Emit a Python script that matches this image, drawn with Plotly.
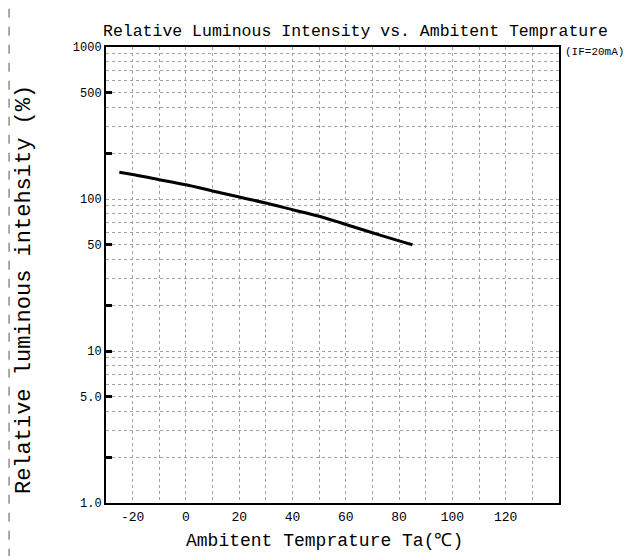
import plotly.graph_objects as go

# ---- data ----
temp_c = [-25, -20, -10, 0, 10, 20, 30, 40, 50, 60, 70, 80, 85]
rel_intensity = [150, 145, 134, 124, 113, 103, 94, 85, 77, 68, 60, 53, 50]

x_tick_vals = [-20, 0, 20, 40, 60, 80, 100, 120]
x_tick_text = ["-20", "0", "20", "40", "60", "80", "100", "120"]
x_grid_vals = [-20, -10, 0, 10, 20, 30, 40, 50, 60, 70, 80, 90, 100, 110, 120, 130]

y_label_vals = [1, 5, 10, 50, 100, 500, 1000]
y_label_text = ["1.0", "5.0", "10", "50", "100", "500", "1000"]
y_mark_vals = [2, 5, 10, 20, 50, 200, 500]

title_text = "Relative Luminous Intensity vs. Ambitent Temprature"
cond_text = "(IF=20mA)"
x_title = "Ambitent Temprature Ta(℃)"
y_title = "Relative luminous intehsity (%)"

# grid values on log axis: 1..9 per decade
y_grid_vals = [k * 10 ** d for d in range(3) for k in range(1, 10)] + [1000]
y_grid_text = [y_label_text[y_label_vals.index(v)] if v in y_label_vals else "" for v in y_grid_vals]
x_grid_text = [x_tick_text[x_tick_vals.index(v)] if v in x_tick_vals else "" for v in x_grid_vals]

FONT = "Liberation Mono"

fig = go.Figure()
fig.add_trace(go.Scatter(
    x=temp_c, y=rel_intensity, mode="lines",
    line=dict(color="black", width=3, shape="spline"),
    showlegend=False, hoverinfo="skip",
))
# invisible trace on the tick-mark axis
fig.add_trace(go.Scatter(x=[None], y=[None], yaxis="y2", showlegend=False))

fig.update_layout(
    width=624, height=548,
    margin=dict(l=98, r=73, t=39, b=53),
    paper_bgcolor="white", plot_bgcolor="white",
    font=dict(family=FONT, color="black"),
    xaxis=dict(
        range=[-30, 140], tickmode="array", tickvals=x_grid_vals, ticktext=x_grid_text,
        showgrid=True, gridcolor="#a0a0a0", griddash="dot", gridwidth=1,
        showline=True, linecolor="black", linewidth=2, mirror=True,
        ticks="", zeroline=False, tickfont=dict(size=13, family=FONT),
    ),
    yaxis=dict(
        type="log", range=[0, 3], tickmode="array", tickvals=y_grid_vals, ticktext=y_grid_text,
        showgrid=True, gridcolor="#a0a0a0", griddash="dot", gridwidth=1,
        showline=True, linecolor="black", linewidth=2, mirror=True,
        ticks="", zeroline=False, tickfont=dict(size=12, family=FONT),
    ),
    yaxis2=dict(
        type="log", range=[0, 3], overlaying="y", side="left",
        tickmode="array", tickvals=y_mark_vals, showticklabels=False,
        ticks="inside", ticklen=6, tickwidth=3, tickcolor="black",
        showgrid=False, showline=False, zeroline=False,
    ),
    annotations=[
        dict(text=title_text, xref="paper", yref="paper", x=-0.01, y=1.033,
             xanchor="left", yanchor="middle", showarrow=False,
             font=dict(size=16.5, family=FONT, color="black")),
        dict(text=cond_text, xref="paper", yref="paper", x=1.009, y=0.989,
             xanchor="left", yanchor="middle", showarrow=False,
             font=dict(size=11, family=FONT, color="black")),
        dict(text=x_title, xref="paper", yref="paper", x=0.483, y=-0.083,
             xanchor="center", yanchor="middle", showarrow=False,
             font=dict(size=18, family=FONT, color="black")),
        dict(text=y_title, xref="paper", yref="paper", x=-0.181, y=0.467,
             xanchor="center", yanchor="middle", showarrow=False, textangle=-90,
             font=dict(size=22, family=FONT, color="black")),
    ],
    shapes=[
        dict(type="line", xref="paper", yref="paper", x0=-0.214, x1=-0.214,
             y0=-0.12, y1=1.09, line=dict(color="#555", width=1, dash="dash")),
    ],
)

fig.write_html("out.html")
